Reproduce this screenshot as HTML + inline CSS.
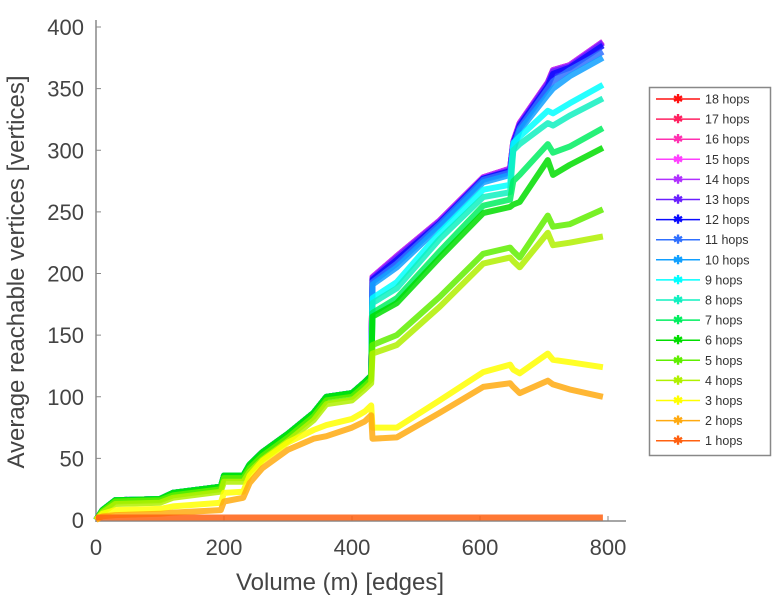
<!DOCTYPE html>
<html><head><meta charset="utf-8"><style>
body{margin:0;background:#fff;width:772px;height:600px;overflow:hidden;font-family:"Liberation Sans",sans-serif}
</style></head><body>
<svg id="chart" width="772" height="600" xmlns="http://www.w3.org/2000/svg">
<g id="axes"></g>
<g id="series"></g>
<g id="legend"></g>
<text transform="translate(24,272) rotate(-90)" text-anchor="middle" font-size="24" fill="#444">Average reachable vertices [vertices]</text>
<text x="340" y="590" text-anchor="middle" font-size="24" fill="#444">Volume (m) [edges]</text>
</svg>
<script>
const xs = [0,10,30,100,120,195,200,230,240,260,300,340,360,400,420,430,432,470,537,605,647,652,662,706,714,740,792];
const xTicks = [0,200,400,600,800];
const yTicks = [0,50,100,150,200,250,300,350,400];
const seriesNames = ["18 hops","17 hops","16 hops","15 hops","14 hops","13 hops","12 hops","11 hops","10 hops","9 hops","8 hops","7 hops","6 hops","5 hops","4 hops","3 hops","2 hops","1 hops"];
const seriesColors = ["#ff1010","#ff2060","#ff30b0","#ff40ff","#b030ff","#6a20ff","#0a0aff","#3070ff","#10a0ff","#00ffff","#10f0c0","#00ee60","#00dd00","#60ee00","#b0f000","#ffff00","#ffaa10","#ff6010"];
const pre = [0,8,16,17,22,27,36,36,45,55,70,87,100,103,112,117];
const v18 = pre.concat([197,214,243,278,285,307,322,355,365,369,388]);
const v17 = pre.concat([197,214,243,278,285,307,322,355,365,369,388]);
const v16 = pre.concat([197,214,243,278,285,307,322,355,365,369,388]);
const v15 = pre.concat([197,214,243,278,285,307,322,355,365,369,388]);
const v14 = pre.concat([197,214,243,278,285,307,322,355,365,369,388]);
const v13 = pre.concat([196,213,242,277,284,306,321,354,364,368,387]);
const v12 = pre.concat([195,211,241,277,283,305,320,352,362,367,385]);
const v11 = pre.concat([193,208,240,276,282,303,318,350,356,365,380]);
const v10 = pre.concat([191,205,238,274,280,300,316,345,350,360,375]);
const v9 = pre.concat([180,193,233,268,272,306,311,332,330,338,353]);
const v8 = pre.concat([176,188,228,262,266,300,305,322,320,328,342]);
const v7 = pre.concat([168,180,218,255,260,275,280,305,298,303,318]);
const v6 = pre.concat([165,176,213,249,254,256,258,292,280,288,302]);
const v5 = [0,7,15,16,20,25,34,34,42,52,67,84,97,100,109,114,142,150,181,216,221,218,213,247,238,240,252];
const v4 = [0,6,13,14,18,23,31,31,39,49,64,81,94,97,106,111,135,142,173,208,213,210,205,233,223,225,230];
const v3 = [0,5,8,9,11,14,22,23,36,48,63,73,77,82,88,93,75,75,97,120,126,122,119,135,130,128,124];
const v2 = [0,3,4,5,6,8,15,18,30,42,57,66,68,75,80,85,66,67,87,108,111,108,103,113,110,106,100];
const v1 = [2,2,2,2,2,2,2,2,2,2,2,2,2,2,2,2,2,2,2,2,2,2,2,2,2,2,2];
const seriesValues = [v18,v17,v16,v15,v14,v13,v12,v11,v10,v9,v8,v7,v6,v5,v4,v3,v2,v1];

const NS="http://www.w3.org/2000/svg";
const X0=96, PXX=0.64, Y0=520, PXY=1.2325;
function sx(v){return X0+v*PXX;}
function sy(v){return Y0-v*PXY;}
function mk(tag,attrs,parent){const e=document.createElementNS(NS,tag);for(const k in attrs)e.setAttribute(k,attrs[k]);parent.appendChild(e);return e;}

const axes=document.getElementById('axes');
let l=mk('line',{x1:96,y1:20,x2:96,y2:522,stroke:'#888','stroke-width':1.5},axes);


l=mk('line',{x1:96,y1:521,x2:626,y2:521,stroke:'#888','stroke-width':1.5},axes);


yTicks.forEach(t=>{
  const tk=mk('line',{x1:96,y1:sy(t),x2:101,y2:sy(t),stroke:'#888'},axes);
  
  
  const tx=mk('text',{x:84,y:sy(t)+8,'text-anchor':'end','font-size':22,fill:'#444'},axes);
  tx.textContent=t;
  
  
});
xTicks.forEach(t=>{
  const tk=mk('line',{x1:sx(t),y1:521,x2:sx(t),y2:516,stroke:'#888'},axes);
  
  
  const tx=mk('text',{x:sx(t),y:555,'text-anchor':'middle','font-size':22,fill:'#444'},axes);
  tx.textContent=t;
  
  
});

const sg=document.getElementById('series');
seriesValues.forEach((vals,i)=>{
  const pts=vals.map((v,j)=>sx(xs[j]).toFixed(1)+','+sy(v).toFixed(1)).join(' ');
  const p=mk('polyline',{points:pts,fill:'none',stroke:seriesColors[i],'stroke-width':6,'stroke-linejoin':'round','stroke-opacity':0.85},sg);
  
  
});

const lg=document.getElementById('legend');
const box=mk('rect',{x:649.5,y:87.5,width:121,height:368,fill:'#fff',stroke:'#888','stroke-width':1.5},lg);


seriesNames.forEach((n,i)=>{
  const y=99+i*20.1;
  const g=mk('g',{},lg);
  
  
  mk('line',{x1:656,y1:y,x2:700,y2:y,stroke:seriesColors[i],'stroke-width':1.5},g);
  mk('text',{x:678,y:y+4,'text-anchor':'middle','font-size':12,fill:seriesColors[i],'font-weight':'bold'},g).textContent='✱';
  const t=mk('text',{x:705,y:y+4.5,'font-size':12.5,fill:'#333'},g);
  t.textContent=n;
});
</script>
</body></html>
